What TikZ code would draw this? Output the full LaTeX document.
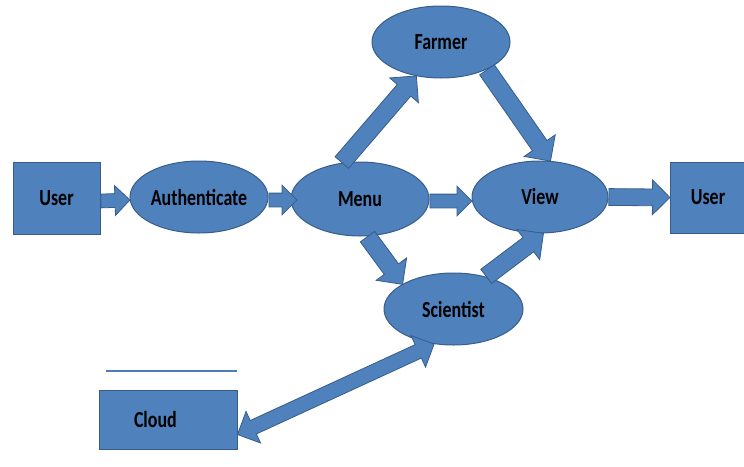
\documentclass[tikz,border=0pt]{standalone}
\usepackage{fontspec}
\setmainfont{Carlito}[FakeStretch=0.78]
\usepackage{xcolor}
\usetikzlibrary{shapes.geometric, shapes.arrows, positioning, calc}

\definecolor{boxblue}{RGB}{79,129,189}
\definecolor{edgeblue}{RGB}{56,93,138}
\definecolor{lineblue}{RGB}{74,126,187}

\begin{document}
\begin{tikzpicture}[
    x=1pt, y=-1pt,
    every node/.style={font=\fontsize{23}{26}\selectfont\bfseries},
    oval/.style={ellipse, draw=edgeblue, fill=boxblue, line width=1pt, minimum width=138pt, minimum height=72pt, inner sep=0pt},
    box/.style={rectangle, draw=edgeblue, fill=boxblue, line width=1pt, minimum width=87pt, minimum height=72pt, inner sep=0pt},
    fatarrow/.style={single arrow, draw=edgeblue, fill=boxblue, line width=0.8pt, inner xsep=0pt, inner ysep=6.5pt, single arrow head extend=8pt, single arrow head indent=0pt},
    widearrow/.style={inner ysep=8pt, single arrow head extend=9pt},
    slantarrow/.style={inner ysep=8.5pt, single arrow head extend=10pt},
    bothways/.style={double arrow, draw=edgeblue, fill=boxblue, line width=0.8pt, inner xsep=0pt, inner ysep=7pt, double arrow head extend=10pt, double arrow head indent=0pt},
    blockarrow/.style={to path={let \p1=(\tikztostart), \p2=(\tikztotarget), \n1={veclen(\x2-\x1,\y2-\y1)}, \n2={atan2(\y2-\y1,\x2-\x1)} in node[fatarrow, anchor=tail, rotate=\n2, minimum height=\n1, #1] at (\p1) {} (\tikztotarget)}},
    blockarrow/.default={},
    twoway/.style={to path={let \p1=(\tikztostart), \p2=(\tikztotarget), \n1={veclen(\x2-\x1,\y2-\y1)}, \n2={atan2(\y2-\y1,\x2-\x1)} in node[bothways, rotate=\n2, minimum height=\n1] at ($(\p1)!0.5!(\p2)$) {} (\tikztotarget)}}
]
\useasboundingbox (0,0) rectangle (744,466);

\node (userL) [box] at (56.5,198) {User};
\node (auth) [oval] at (199,197) {Authenticate};
\node (menu) [oval, minimum height=74pt] at (360,199) {Menu};
\node (farmer) [oval] at (441,42) {Farmer};
\node (view) [oval, minimum width=136pt] at (540,197) {View};
\node (userR) [box, minimum width=76pt, minimum height=71pt] at (708,197.5) {User};
\node (scientist) [oval, minimum width=139pt] at (453.5,309) {Scientist};
\node (cloud) [box, minimum height=59pt, text width=68pt, inner xsep=35pt, align=left] at (168,419.5) {Cloud};

\coordinate (lineL) at (106,371);
\coordinate (lineR) at (237,371);
\draw [lineblue, line width=1.5pt] (lineL) -- (lineR);

\path ([yshift=-3pt]userL.east) to[blockarrow] ([yshift=-3pt]auth.west);
\path ([yshift=-3pt]auth.east) to[blockarrow] ([xshift=6pt,yshift=-1pt]menu.west);
\path ([yshift=-2pt]menu.east) to[blockarrow] ([yshift=-4pt]view.west);
\path (view.east) to[blockarrow=widearrow] (userR.west);
\path (menu.117) to[blockarrow=slantarrow] (farmer.234);
\path (farmer.-31) to[blockarrow=slantarrow] (view.74);
\path (menu.-79) to[blockarrow=slantarrow] (scientist.154);
\path (scientist.45) to[blockarrow=slantarrow] (view.-85);
\path (scientist.241) to[twoway] ([yshift=-15pt]cloud.east);

\end{tikzpicture}
\end{document}
